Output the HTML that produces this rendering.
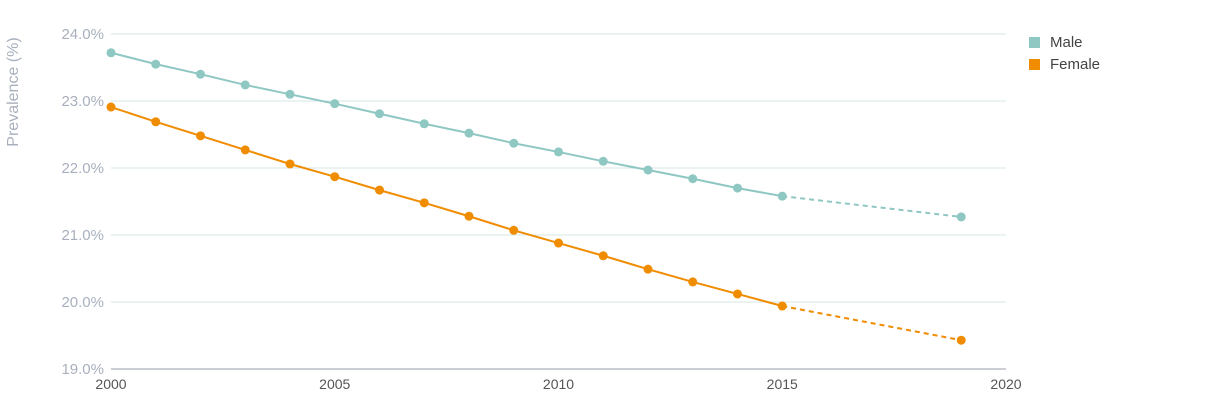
<!DOCTYPE html>
<html><head><meta charset="utf-8"><style>
html,body{margin:0;padding:0;background:#fff;width:1230px;height:403px;overflow:hidden;font-family:"Liberation Sans",sans-serif}
</style></head><body>
<svg id="chart" width="1230" height="403" viewBox="0 0 1230 403" xmlns="http://www.w3.org/2000/svg">
<g id="grid"></g>
<g id="yticks"></g>
<g id="xticks"></g>
<text transform="translate(18,92) rotate(-90)" text-anchor="middle" font-size="16" fill="#a8b0bd">Prevalence (%)</text>
<g id="series"></g>
<g>
<g><rect x="1029" y="37" width="11" height="11" fill="#8fc7c3"/><text x="1050" y="47" font-size="15" fill="#444">Male</text></g>
<g><rect x="1029" y="59" width="11" height="11" fill="#f08c00"/><text x="1050" y="69" font-size="15" fill="#444">Female</text></g>
</g>
</svg>
<script>
const years=[2000,2001,2002,2003,2004,2005,2006,2007,2008,2009,2010,2011,2012,2013,2014,2015];
const maleValues=[23.72,23.55,23.40,23.24,23.10,22.96,22.81,22.66,22.52,22.37,22.24,22.10,21.97,21.84,21.70,21.58];
const femaleValues=[22.91,22.69,22.48,22.27,22.06,21.87,21.67,21.48,21.28,21.07,20.88,20.69,20.49,20.30,20.12,19.94];
const projYear=[2019];
const maleProj=[21.27];
const femaleProj=[19.43];
const yTicks=[19,20,21,22,23,24];
const xTicks=[2000,2005,2010,2015,2020];
const NS="http://www.w3.org/2000/svg";
const x=v=>111+(v-2000)*(1006-111)/20;
const y=v=>369-(v-19)*67;
function mk(t,a,p){const e=document.createElementNS(NS,t);for(const k in a)e.setAttribute(k,a[k]);p.appendChild(e);return e;}
const grid=document.getElementById('grid'),yt=document.getElementById('yticks'),xt=document.getElementById('xticks'),ser=document.getElementById('series');
yTicks.forEach(v=>{
 const l=mk('line',{x1:111,x2:1006,y1:y(v),y2:y(v),stroke:v===19?'#9aa0a8':'#d6e6e5','stroke-width':1},grid);
 
 
 const t=mk('text',{x:104,y:y(v)+5,'text-anchor':'end','font-size':15,fill:'#a8b0bd'},yt);
 t.textContent=v.toFixed(1)+'%';
 
 
});
xTicks.forEach(v=>{
 const t=mk('text',{x:x(v),y:389,'text-anchor':'middle','font-size':14,fill:'#555'},xt);
 t.textContent=v;
 
 
});
function series(name,vals,proj,color){
 const g=mk('g',{},ser);
 
 
 const pts=years.map((yr,i)=>x(yr)+','+y(vals[i])).join(' ');
 const pl=mk('polyline',{points:pts,fill:'none',stroke:color,'stroke-width':2},g);
 
 
 const last=years.length-1;
 const d=mk('line',{x1:x(years[last]),y1:y(vals[last]),x2:x(projYear[0]),y2:y(proj[0]),stroke:color,'stroke-width':2,'stroke-dasharray':'5,4'},g);
 
 
 years.forEach((yr,i)=>{
  const c=mk('circle',{cx:x(yr),cy:y(vals[i]),r:4.5,fill:color},g);
  
  
 });
 projYear.forEach((yr,i)=>{
  const c=mk('circle',{cx:x(yr),cy:y(proj[i]),r:4.5,fill:color},g);
  
  
 });
}
series('male',maleValues,maleProj,'#8fc7c3');
series('female',femaleValues,femaleProj,'#f08c00');
</script>
</body></html>
